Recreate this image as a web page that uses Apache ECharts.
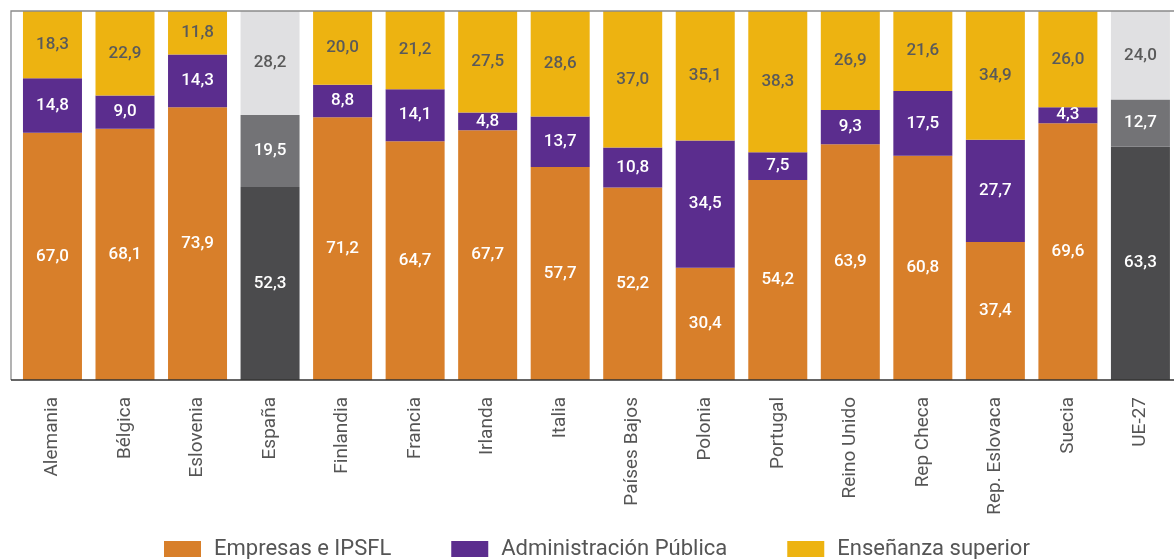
<!DOCTYPE html>
<html>
<head>
    <meta charset="utf-8">
    <title>Gasto en I+D por sector</title>
    <script src="https://cdn.jsdelivr.net/npm/echarts@6.0.0/dist/echarts.min.js"></script>
    <style>
        html, body { margin: 0; padding: 0; background: #fff; }
        #chart { width: 1174px; height: 559px; }
    </style>
</head>
<body>
<div id="chart"></div>
<script>
    // categorias y valores (%)
    var categories = ['Alemania', 'Bélgica', 'Eslovenia', 'España', 'Finlandia', 'Francia', 'Irlanda', 'Italia',
        'Países Bajos', 'Polonia', 'Portugal', 'Reino Unido', 'Rep Checa', 'Rep. Eslovaca', 'Suecia', 'UE-27'];
    var empresas = [67.0, 68.1, 73.9, 52.3, 71.2, 64.7, 67.7, 57.7, 52.2, 30.4, 54.2, 63.9, 60.8, 37.4, 69.6, 63.3];
    var administracion = [14.8, 9.0, 14.3, 19.5, 8.8, 14.1, 4.8, 13.7, 10.8, 34.5, 7.5, 9.3, 17.5, 27.7, 4.3, 12.7];
    var ensenanza = [18.3, 22.9, 11.8, 28.2, 20.0, 21.2, 27.5, 28.6, 37.0, 35.1, 38.3, 26.9, 21.6, 34.9, 26.0, 24.0];
    var greyCats = ['España', 'UE-27'];

    var chart = echarts.init(document.getElementById('chart'));

    // barras de España y UE-27 en grises
    function buildData(values, grey, greyLabel) {
        return values.map(function (v, i) {
            if (greyCats.indexOf(categories[i]) >= 0) {
                return { value: v, itemStyle: { color: grey }, label: { color: greyLabel } };
            }
            return v;
        });
    }

    function fmt(p) {
        return p.value.toFixed(1).replace('.', ',');
    }

    function serie(name, values, color, labelColor, grey, greyLabel) {
        return {
            name: name,
            type: 'bar',
            stack: 'total',
            barWidth: 59,
            itemStyle: { color: color },
            label: {
                show: true,
                position: 'inside',
                formatter: fmt,
                color: labelColor,
                fontFamily: 'Roboto',
                fontSize: 17,
                fontWeight: 500
            },
            data: buildData(values, grey, greyLabel)
        };
    }

    var option = {
        animation: false,
        textStyle: { fontFamily: 'Roboto' },
        grid: { left: 16.2, top: 11, width: 1160.5, height: 369, outerBoundsMode: 'none' },
        legend: {
            left: 164,
            top: 538,
            padding: 0,
            itemWidth: 37,
            itemHeight: 16,
            itemGap: 60,
            icon: 'rect',
            textStyle: { fontFamily: 'Roboto', fontSize: 22, color: '#555', padding: [0, 0, 0, 8] },
            data: ['Empresas e IPSFL', 'Administración Pública', 'Enseñanza superior']
        },
        xAxis: {
            type: 'category',
            data: categories,
            axisLine: { show: false },
            axisTick: { show: false },
            axisLabel: {
                rotate: 90,
                interval: 0,
                margin: 17,
                fontFamily: 'Roboto',
                fontSize: 19,
                color: '#555'
            }
        },
        yAxis: {
            type: 'value',
            min: 0,
            max: 100,
            show: false
        },
        series: [
            serie('Empresas e IPSFL', empresas, '#D87F2A', '#fff', '#4B4B4D', '#fff'),
            serie('Administración Pública', administracion, '#5B2D8E', '#fff', '#737376', '#fff'),
            serie('Enseñanza superior', ensenanza, '#EDB311', '#5a5a5a', '#E0E0E2', '#5a5a5a')
        ],
        graphic: [
            {
                type: 'polyline',
                shape: { points: [[11, 380], [11, 11], [1174, 11]] },
                style: { stroke: '#8a8a8a', lineWidth: 1.3, fill: null },
                z: 10
            },
            {
                type: 'line',
                shape: { x1: 11, y1: 380, x2: 1174, y2: 380 },
                style: { stroke: '#333', lineWidth: 1.5 },
                z: 10
            }
        ]
    };

    chart.setOption(option);
</script>
</body>
</html>
